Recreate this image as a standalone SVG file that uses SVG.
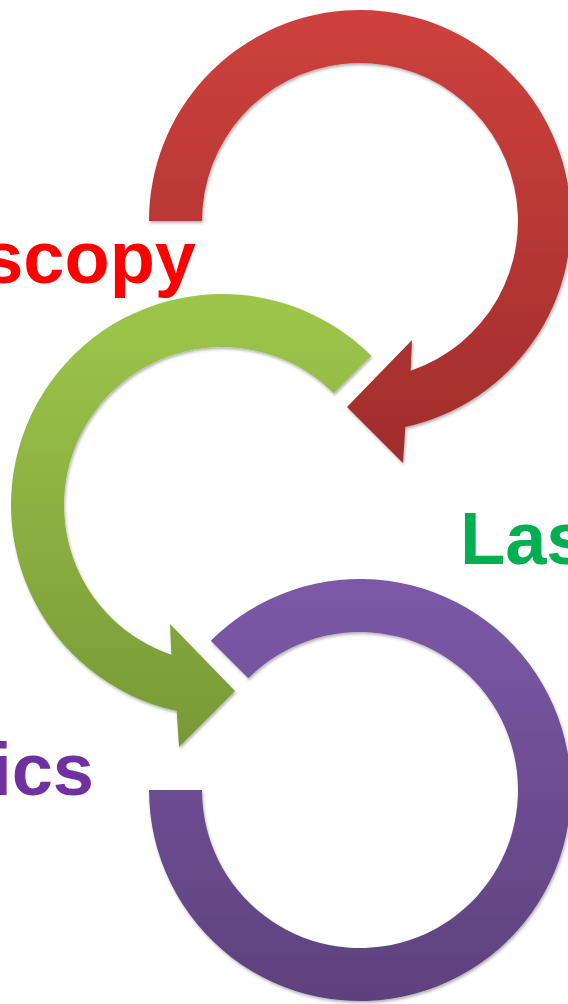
<svg xmlns="http://www.w3.org/2000/svg" width="568" height="1004" viewBox="0 0 568 1004">
  <defs>
    <linearGradient id="gRed" x1="0" y1="0" x2="0" y2="1">
      <stop offset="0" stop-color="#CE413D"/>
      <stop offset="1" stop-color="#A02D2C"/>
    </linearGradient>
    <linearGradient id="gGreen" x1="0" y1="0" x2="0" y2="1">
      <stop offset="0" stop-color="#9EC64B"/>
      <stop offset="1" stop-color="#789936"/>
    </linearGradient>
    <linearGradient id="gPurple" x1="0" y1="0" x2="0" y2="1">
      <stop offset="0" stop-color="#7C59A8"/>
      <stop offset="1" stop-color="#5E417D"/>
    </linearGradient>
    <filter id="shadow" x="-10%" y="-10%" width="120%" height="120%">
      <feDropShadow dx="1" dy="2" stdDeviation="1.8" flood-color="#000" flood-opacity="0.3"/>
    </filter>
  </defs>
  <style>
    .arrow { filter: url(#shadow); }
    .lbl { font-family: "Liberation Sans", Arial, sans-serif; font-weight: bold; font-size: 74px; }
  </style>

  <g id="node-red">
    <path class="arrow" fill="url(#gRed)" d="M149,221 A211,211 0 1 1 405.3,427.1 L403,463 L347,407 L412,340 L410.7,370.7 A158,158 0 1 0 202,221 Z"/>
  </g>
  <g id="node-green">
    <path class="arrow" fill="url(#gGreen)" d="M371.2,355.8 A211,211 0 1 0 176.7,711.1 L179,747 L235,691 L170,624 L171.3,654.7 A158,158 0 1 1 333.7,393.3 Z"/>
  </g>
  <g id="node-purple">
    <path class="arrow" fill="url(#gPurple)" d="M210.8,640.8 A211,211 0 1 1 149,790 L202,790 A158,158 0 1 0 248.3,678.3 Z"/>
  </g>

  <g id="label-scopy">
    <text class="lbl" x="196" y="283" text-anchor="end" fill="#FF0000">scopy</text>
  </g>
  <g id="label-las">
    <text class="lbl" x="460" y="564" fill="#00B050">Las</text>
  </g>
  <g id="label-ics">
    <text class="lbl" x="94" y="795" text-anchor="end" fill="#7030A0">ics</text>
  </g>

  <g id="connectors"/>
</svg>
